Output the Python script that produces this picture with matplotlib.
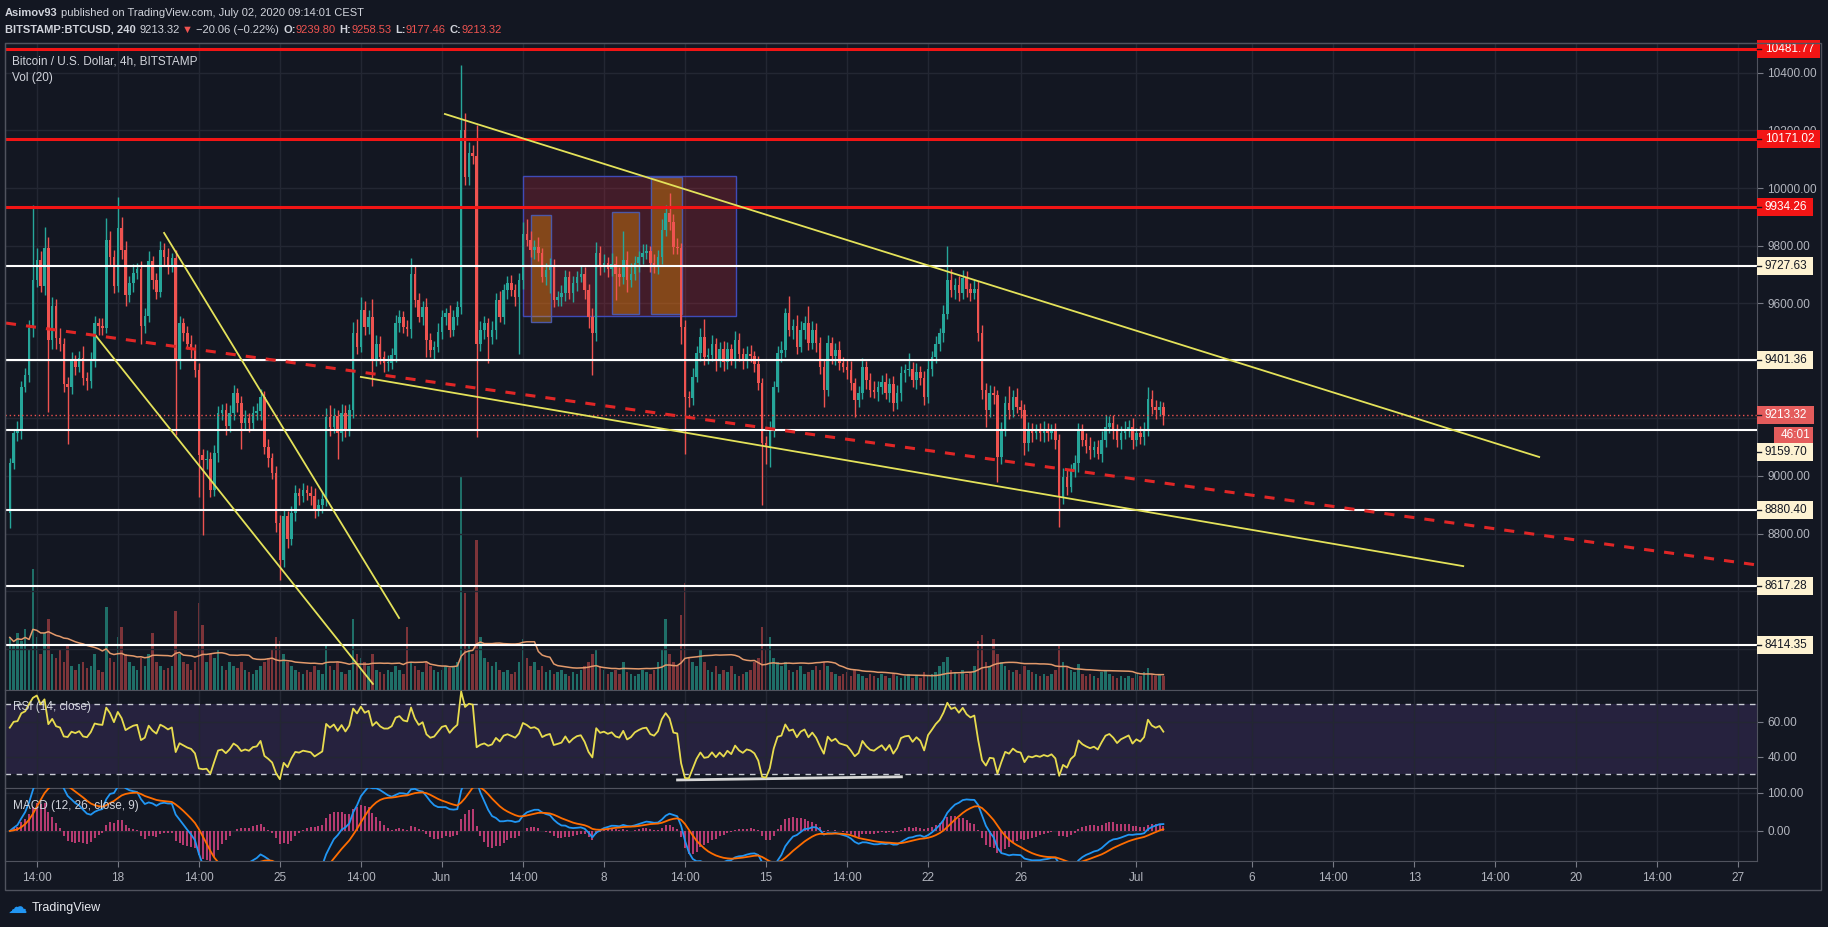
import numpy as np
import pandas as pd
import matplotlib
matplotlib.use('Agg')
import matplotlib.pyplot as plt
from matplotlib import font_manager
from matplotlib.patches import Rectangle
from matplotlib.transforms import blended_transform_factory

# BITSTAMP:BTCUSD 4h candles, first one 13 May 08:00, last one 2 Jul 04:00 (UTC)
first_open = 8870
close = [
    9044, 9148, 9160, 9310, 9351, 9513, 9681, 9750, 9658, 9790,
    9472, 9590, 9480, 9460, 9320, 9310, 9400, 9380, 9410, 9340,
    9330, 9400, 9530, 9520, 9515, 9820, 9760, 9660, 9860, 9785,
    9630, 9670, 9705, 9720, 9520, 9555, 9745, 9680, 9640, 9785,
    9760, 9727, 9756, 9403, 9530, 9495, 9460, 9438, 9368, 9073,
    9055, 9060, 8952, 9079, 9218, 9230, 9172, 9218, 9287, 9252,
    9183, 9200, 9183, 9218, 9225, 9276, 9102, 9061, 9010, 8836,
    8709, 8860, 8780, 8870, 8940, 8930, 8950, 8940, 8930, 8880,
    8900, 8920, 9206, 9170, 9210, 9150, 9220, 9160, 9230, 9495,
    9449, 9576, 9518, 9553, 9403, 9460, 9414, 9391, 9391, 9420,
    9530, 9553, 9518, 9510, 9703, 9611, 9553, 9588, 9472, 9437,
    9449, 9500, 9553, 9565, 9507, 9553, 9588, 10201, 10039, 10120,
    10110, 9460, 9507, 9530, 9484, 9507, 9611, 9553, 9646, 9669,
    9646, 9622, 9680, 9842, 9819, 9785, 9796, 9773, 9692, 9715,
    9727, 9611, 9622, 9634, 9692, 9634, 9669, 9692, 9700, 9646,
    9553, 9495, 9773, 9727, 9740, 9720, 9735, 9700, 9690, 9750,
    9680, 9700, 9740, 9760, 9775, 9780, 9740, 9730, 9760, 9854,
    9912, 9883, 9796, 9790, 9518, 9276, 9270, 9345, 9426, 9484,
    9414, 9420, 9460, 9403, 9440, 9395, 9440, 9405, 9472, 9425,
    9400, 9425, 9415, 9390, 9322, 9113, 9100, 9160, 9310, 9426,
    9438, 9565, 9507, 9520, 9449, 9507, 9530, 9461, 9507, 9461,
    9380, 9299, 9461, 9415, 9438, 9392, 9380, 9368, 9322, 9264,
    9287, 9380, 9333, 9299, 9290, 9310, 9327, 9287, 9321, 9252,
    9287, 9356, 9368, 9372, 9333, 9362, 9340, 9275, 9373, 9414,
    9460, 9495, 9564, 9680, 9645, 9663, 9634, 9686, 9651, 9634,
    9651, 9495, 9298, 9229, 9287, 9280, 9067, 9159, 9252, 9229,
    9275, 9240, 9230, 9113, 9159, 9148, 9160, 9148, 9160, 9148,
    9160, 9125, 8928, 8997, 8963, 9020, 9044, 9159, 9125, 9105,
    9090, 9100, 9078, 9125, 9171, 9183, 9160, 9125, 9148, 9160,
    9171, 9125, 9148, 9136, 9159, 9269, 9240, 9229, 9240, 9213.32,
]
wick_up = [
    20, 15, 30, 20, 25, 30, 260, 40, 30, 75, 40, 30, 25, 35, 20, 25, 30, 20, 25, 40,
    20, 30, 25, 20, 30, 75, 30, 25, 110, 40, 30, 25, 30, 20, 25, 30, 35, 20, 25, 30,
    25, 30, 20, 30, 25, 20, 25, 30, 20, 25, 20, 30, 25, 30, 25, 20, 25, 30, 30, 20,
    25, 30, 20, 25, 30, 25, 20, 25, 20, 25, 30, 25, 20, 25, 30, 20, 25, 20, 25, 30,
    20, 25, 30, 40, 25, 20, 30, 25, 20, 40, 50, 45, 30, 25, 60, 30, 25, 20, 30, 25,
    30, 25, 20, 25, 55, 30, 25, 20, 30, 25, 20, 30, 25, 20, 30, 25, 20, 226, 60, 40,
    30, 110, 30, 25, 20, 30, 25, 30, 20, 25, 30, 20, 25, 40, 50, 30, 25, 35, 20, 25,
    30, 25, 20, 30, 25, 20, 25, 20, 30, 25, 20, 30, 40, 25, 30, 20, 40, 30, 25, 100,
    30, 40, 25, 20, 30, 25, 20, 30, 25, 40, 30, 70, 25, 30, 20, 25, 20, 30, 25, 30,
    60, 25, 30, 20, 25, 30, 25, 20, 30, 25, 20, 25, 30, 20, 25, 20, 25, 30, 20, 25,
    30, 20, 60, 25, 40, 30, 25, 60, 30, 25, 20, 25, 30, 20, 25, 30, 20, 25, 30, 20,
    25, 30, 20, 25, 30, 20, 25, 30, 20, 25, 30, 25, 20, 55, 25, 30, 20, 25, 30, 20,
    25, 20, 30, 120, 40, 25, 30, 30, 25, 20, 30, 25, 30, 25, 30, 25, 20, 30, 25, 60,
    25, 30, 25, 20, 30, 25, 20, 25, 30, 25, 20, 25, 20, 30, 25, 20, 30, 25, 20, 25,
    30, 20, 25, 30, 40, 25, 30, 20, 25, 30, 25, 30, 20, 25, 30, 40, 30, 25, 20, 18,
]
wick_dn = [
    50, 20, 25, 30, 20, 25, 30, 25, 20, 30, 250, 30, 40, 25, 30, 200, 25, 30, 20, 25,
    30, 25, 20, 30, 25, 20, 30, 25, 20, 30, 40, 25, 30, 20, 60, 25, 20, 30, 25, 20,
    30, 25, 20, 260, 30, 25, 20, 30, 25, 145, 260, 30, 25, 20, 30, 25, 30, 20, 25, 30,
    90, 25, 30, 20, 25, 30, 25, 30, 20, 30, 70, 25, 30, 20, 25, 30, 20, 25, 30, 25,
    20, 30, 25, 30, 20, 90, 30, 25, 20, 30, 25, 20, 30, 25, 90, 20, 25, 30, 25, 20,
    25, 30, 20, 25, 30, 25, 20, 30, 60, 25, 30, 20, 25, 30, 25, 20, 30, 25, 30, 30,
    25, 324, 25, 30, 90, 25, 30, 20, 25, 30, 20, 30, 200, 30, 20, 25, 30, 25, 20, 30,
    80, 25, 20, 30, 25, 20, 30, 25, 20, 30, 40, 145, 25, 30, 20, 30, 25, 90, 30, 25,
    40, 25, 20, 30, 25, 20, 30, 25, 30, 25, 20, 30, 25, 20, 60, 200, 30, 25, 20, 25,
    30, 25, 20, 40, 25, 30, 25, 20, 30, 25, 30, 25, 20, 30, 25, 214, 60, 70, 25, 20,
    30, 25, 20, 30, 25, 20, 30, 25, 20, 30, 25, 60, 20, 25, 30, 25, 20, 30, 25, 60,
    25, 20, 30, 25, 20, 30, 25, 20, 30, 25, 20, 25, 30, 20, 25, 30, 25, 30, 20, 25,
    20, 25, 30, 20, 25, 30, 25, 20, 30, 25, 20, 25, 30, 60, 25, 30, 87, 25, 20, 30,
    25, 20, 30, 40, 25, 30, 20, 25, 30, 25, 20, 30, 104, 25, 30, 20, 25, 30, 20, 25,
    30, 25, 20, 30, 25, 20, 30, 25, 30, 20, 25, 30, 20, 25, 30, 20, 25, 30, 20, 36,
]
volume = [
    1300, 1100, 1400, 1200, 1500, 1000, 3000, 1300, 900, 1400,
    1750, 900, 800, 1000, 700, 1100, 600, 500, 650, 700,
    550, 600, 900, 500, 450, 2050, 800, 700, 1300, 1550,
    900, 700, 600, 500, 800, 600, 900, 1400, 700, 600,
    500, 550, 600, 1950, 900, 700, 650, 500, 700, 2150,
    1600, 700, 900, 800, 1000, 600, 500, 700, 600, 550,
    700, 500, 450, 400, 500, 600, 700, 800, 1000, 1300,
    1200, 900, 700, 600, 500, 450, 400, 500, 450, 600,
    500, 400, 1100, 600, 500, 700, 450, 400, 500, 1750,
    900, 800, 700, 600, 900, 500, 450, 400, 500, 450,
    600, 500, 400, 1550, 700, 600, 500, 450, 700, 600,
    500, 450, 500, 600, 550, 600, 700, 5300, 2400, 1100,
    900, 3700, 1300, 800, 700, 600, 700, 500, 450, 500,
    400, 450, 700, 1250, 800, 600, 700, 500, 600, 450,
    500, 400, 450, 500, 400, 350, 450, 400, 500, 600,
    700, 900, 1000, 600, 500, 400, 450, 500, 400, 700,
    450, 400, 350, 400, 500, 450, 400, 500, 700, 1000,
    1750, 900, 700, 600, 1850, 2650, 800, 700, 600, 1000,
    700, 500, 450, 600, 400, 500, 450, 600, 400, 350,
    400, 450, 500, 700, 800, 1550, 1000, 1300, 800, 700,
    600, 700, 500, 450, 500, 600, 400, 450, 500, 600,
    500, 700, 600, 450, 400, 350, 400, 450, 350, 500,
    400, 350, 300, 400, 350, 300, 400, 350, 300, 400,
    350, 300, 350, 400, 300, 350, 300, 450, 350, 400,
    450, 600, 700, 820, 500, 450, 400, 500, 400, 450,
    600, 1200, 1350, 700, 600, 1250, 900, 700, 600, 500,
    450, 500, 400, 600, 500, 450, 400, 350, 400, 350,
    400, 500, 1100, 700, 600, 500, 450, 650, 400, 350,
    400, 350, 300, 450, 500, 400, 350, 300, 350, 300,
    350, 300, 400, 350, 450, 550, 400, 350, 400, 350,
]

red_levels = [10481.77, 10171.02, 9934.26]
white_levels = [9727.63, 9401.36, 9159.70, 8880.40, 8617.28, 8414.35]
last_price = 9213.32
countdown = '46:01'

# drawings, x in days from 18 May 00:00
yellow_lines = [((-0.94, 9486), (11.02, 8278)), ((2.0, 9844), (12.15, 8507)),
                ((10.5, 9344), (58.12, 8687)), ((14.13, 10257), (61.4, 9066))]
red_dash = ((-4.83, 9531), (70.81, 8691))
zone = (17.51, 26.71, 9556, 10042)
orange_zones = [(17.85, 18.71, 9535, 9906), (21.35, 22.51, 9563, 9917), (23.03, 24.37, 9563, 10038)]
rsi_support = ((24.18, 26.6), (33.85, 28.4))

tick_days = [-3.5, 0, 3.5, 7, 10.5, 14, 17.5, 21, 24.5, 28, 31.5, 35, 39, 44, 49,
             52.5, 56, 59.5, 63, 66.5, 70]
tick_labels = ['14:00', '18', '14:00', '25', '14:00', 'Jun', '14:00', '8', '14:00', '15',
               '14:00', '22', '26', 'Jul', '6', '14:00', '13', '14:00', '20', '14:00', '27']

W, H = 1828, 927
BG = '#131722'
TEAL, RED = '#26a69a', '#ef5350'
TXT, AXT = '#d1d4dc', '#b2b5be'
GRID, EDGE = '#232733', '#50535e'
XLIM = (-4.873, 70.81)

installed = {f.name for f in font_manager.fontManager.ttflist}
narrow = 'Liberation Sans Narrow' in installed
plt.rcParams['font.family'] = [f for f in ['Liberation Sans Narrow', 'Liberation Sans', 'DejaVu Sans']
                               if f in installed]
FS = 9.5 if narrow else 8.5

close = np.array(close, dtype=float)
opens = np.r_[first_open, close[:-1]]
highs = np.maximum(opens, close) + np.array(wick_up)
lows = np.minimum(opens, close) - np.array(wick_dn)
vol = np.array(volume, dtype=float)
t = -(4 + 16 / 24) + np.arange(len(close)) / 6
up = close >= opens
col = np.where(up, TEAL, RED)

fig = plt.figure(figsize=(W / 100, H / 100), dpi=100, facecolor=BG)


def pane(top, bottom):
    a = fig.add_axes([5 / W, 1 - bottom / H, 1752 / W, (bottom - top) / H], facecolor=BG)
    for s in a.spines.values():
        s.set_color(EDGE)
    a.set_xlim(*XLIM)
    a.set_xticks(tick_days)
    a.grid(True, axis='x', color=GRID, lw=1)
    a.yaxis.tick_right()
    a.tick_params(colors='#787b86', labelcolor=AXT, labelsize=FS, length=4)
    a.tick_params(axis='x', labelbottom=False, length=0)
    a.yaxis.set_major_formatter(lambda v, p: f'{v:.2f}')
    return a


ax = pane(43, 690)
ax_rsi = pane(690, 788)
ax_macd = pane(788, 861)

# ---- price pane ----
ax.set_ylim(8256.9, 10503.5)
ax.set_yticks(np.arange(8400, 10401, 200))
ax.grid(True, axis='y', color=GRID, lw=1)
tagged = red_levels + white_levels + [last_price]
# scale labels that sit under a price tag are not drawn (as on TradingView)
ax.yaxis.set_major_formatter(
    lambda v, p: '' if min(abs(v - y) for y in tagged) < 25 else f'{v:.2f}')

xt = ax.get_xaxis_transform()
VOL_TOP = 16000
vcol = np.where(up, '#1f6f68', '#7d3439')
ax.bar(t, vol / VOL_TOP, width=0.11, color=vcol, transform=xt, zorder=1, linewidth=0)
vma = pd.Series(vol).rolling(20, min_periods=1).mean().to_numpy()
ax.plot(t, vma / VOL_TOP, color='#e39a6c', lw=1.1, transform=xt, zorder=2)

ax.add_patch(Rectangle((zone[0], zone[2]), zone[1] - zone[0], zone[3] - zone[2],
                       fc='#b2283a', alpha=0.3, ec='none', zorder=2))
ax.add_patch(Rectangle((zone[0], zone[2]), zone[1] - zone[0], zone[3] - zone[2],
                       fill=False, ec='#3f4bb8', lw=1, zorder=2))
for x0, x1, y0, y1 in orange_zones:
    ax.add_patch(Rectangle((x0, y0), x1 - x0, y1 - y0, fc='#ff9800', alpha=0.35, ec='none', zorder=2))
    ax.add_patch(Rectangle((x0, y0), x1 - x0, y1 - y0, fill=False, ec='#4b58a8', lw=1, zorder=2))

ax.vlines(t, lows, highs, colors=col, lw=1, zorder=4)
ax.bar(t, np.maximum(np.abs(close - opens), 4), bottom=np.minimum(opens, close),
       width=0.11, color=col, linewidth=0, zorder=5)

for y in red_levels:
    ax.axhline(y, color='#f21515', lw=2.2, zorder=6)
for y in white_levels:
    ax.axhline(y, color='#ffffff', lw=1.5, zorder=6)
ax.axhline(last_price, color=RED, lw=1, ls=(0, (1, 2)), zorder=6)

for (x0, y0), (x1, y1) in yellow_lines:
    ax.plot([x0, x1], [y0, y1], color='#e4e25a', lw=1.3, zorder=7)
(x0, y0), (x1, y1) = red_dash
ax.plot([x0, x1], [y0, y1], color='#e02626', lw=2.2, ls=(0, (3.3, 3.3)), zorder=7)

# price tags on the right scale
blend = blended_transform_factory(ax.transAxes, ax.transData)
px_x = 1 / 1752          # one pixel in axes fraction
px_y = 1 / 0.288         # one pixel in price units


def tag(y, text, fc, tc, width, cy=None):
    cy = y if cy is None else cy
    ax.add_patch(Rectangle((1, cy - 9 * px_y), width * px_x, 18 * px_y, transform=blend,
                           fc=fc, ec='none', clip_on=False, zorder=20))
    ax.plot([1, 1 + 4 * px_x], [cy, cy], transform=blend, color='#131722', lw=1,
            clip_on=False, zorder=21)
    ax.text(1 + 8 * px_x, cy, text, transform=blend, ha='left', va='center',
            color=tc, fontsize=FS, clip_on=False, zorder=21)


for y in red_levels:
    tag(y, f'{y:.2f}', '#f21515', 'white', 63 if y >= 10000 else 56)
for y in white_levels:
    cy = y - 22 * px_y if abs(y - last_price) < 80 else None
    tag(y, f'{y:.2f}', '#fdf2d2', '#131722', 56, cy=cy)
tag(last_price, f'{last_price:.2f}', '#e45c5c', 'white', 57)
ax.add_patch(Rectangle((1 + 17 * px_x, last_price - 28 * px_y), 39 * px_x, 16 * px_y,
                       transform=blend, fc='#e45c5c', ec='none', clip_on=False, zorder=20))
ax.text(1 + 24 * px_x, last_price - 20 * px_y, countdown, transform=blend, ha='left',
        va='center', color='white', fontsize=FS, clip_on=False, zorder=21)

# ---- RSI ----
seed = 45.0
ag = al = seed
rsi = []
prev = first_open
for c in close:
    d = c - prev
    ag = (ag * 13 + max(d, 0)) / 14
    al = (al * 13 + max(-d, 0)) / 14
    rsi.append(100 * ag / (ag + al))
    prev = c
ax_rsi.set_ylim(22, 78)
ax_rsi.set_yticks([40, 60])
ax_rsi.grid(True, axis='y', color=GRID, lw=1)
ax_rsi.axhspan(30, 70, color='#7e57c2', alpha=0.18, lw=0)
for lv in (30, 70):
    ax_rsi.axhline(lv, color='#c9ccd4', lw=1, ls=(0, (4, 4)))
ax_rsi.plot(t, rsi, color='#e8dc4f', lw=1.3, zorder=4)
(x0, y0), (x1, y1) = rsi_support
ax_rsi.plot([x0, x1], [y0, y1], color='#d6d6d6', lw=2, zorder=3)

# ---- MACD ----
cs = pd.Series(close)
macd = cs.ewm(span=12, adjust=False).mean() - cs.ewm(span=26, adjust=False).mean()
signal = macd.ewm(span=9, adjust=False).mean()
hist = macd - signal
ax_macd.set_ylim(-79, 113)
ax_macd.set_yticks([0, 100])
ax_macd.grid(True, axis='y', color=GRID, lw=1)
ax_macd.vlines(t, 0, hist, color='#e8478a', lw=1.1, zorder=2)
ax_macd.plot(t, macd, color='#2196f3', lw=1.3, zorder=3)
ax_macd.plot(t, signal, color='#ff6d00', lw=1.3, zorder=3)
ax_macd.set_xticklabels(tick_labels)
ax_macd.tick_params(axis='x', labelbottom=True, length=4, pad=4, labelsize=FS)

# ---- outer frame and text ----
fig.add_artist(Rectangle((5 / W, 1 - 890 / H), 1816 / W, 847 / H, transform=fig.transFigure,
                         fill=False, ec=EDGE, lw=1))
renderer = fig.canvas.get_renderer()


def ftext(x, y, s, color=TXT, size=FS - 0.5, weight='normal'):
    return fig.text(x / W, 1 - y / H, s, color=color, fontsize=size, weight=weight,
                    va='center', ha='left')


def text_run(x, y, parts):
    # parts placed one after another, each starting where the previous one ends
    for s, color, weight, gap in parts:
        tx = ftext(x, y, s, color=color, weight=weight)
        x = tx.get_window_extent(renderer).x1 + gap


text_run(5, 13, [('Asimov93', TXT, 'bold', 3),
                 ('published on TradingView.com, July 02, 2020 09:14:01 CEST', TXT, 'normal', 0)])
text_run(5, 30, [('BITSTAMP:BTCUSD, 240', TXT, 'bold', 4), ('9213.32', TXT, 'normal', 2),
                 ('▼', RED, 'normal', 3), ('−20.06 (−0.22%)', TXT, 'normal', 4),
                 ('O:', TXT, 'bold', 0), ('9239.80', RED, 'normal', 4),
                 ('H:', TXT, 'bold', 0), ('9258.53', RED, 'normal', 4),
                 ('L:', TXT, 'bold', 0), ('9177.46', RED, 'normal', 4),
                 ('C:', TXT, 'bold', 0), ('9213.32', RED, 'normal', 0)])

ftext(12, 61, 'Bitcoin / U.S. Dollar, 4h, BITSTAMP', size=FS)
ftext(12, 78, 'Vol (20)', size=FS)
ftext(13, 707, 'RSI (14, close)', size=FS)
ftext(13, 806, 'MACD (12, 26, close, 9)', size=FS)
ftext(8, 908, '☁', color='#2196f3', size=14)
ftext(32, 908, 'TradingView', color='#e8eaf0', size=FS + 0.5)

fig.savefig('out.png', dpi=100, facecolor=BG)
